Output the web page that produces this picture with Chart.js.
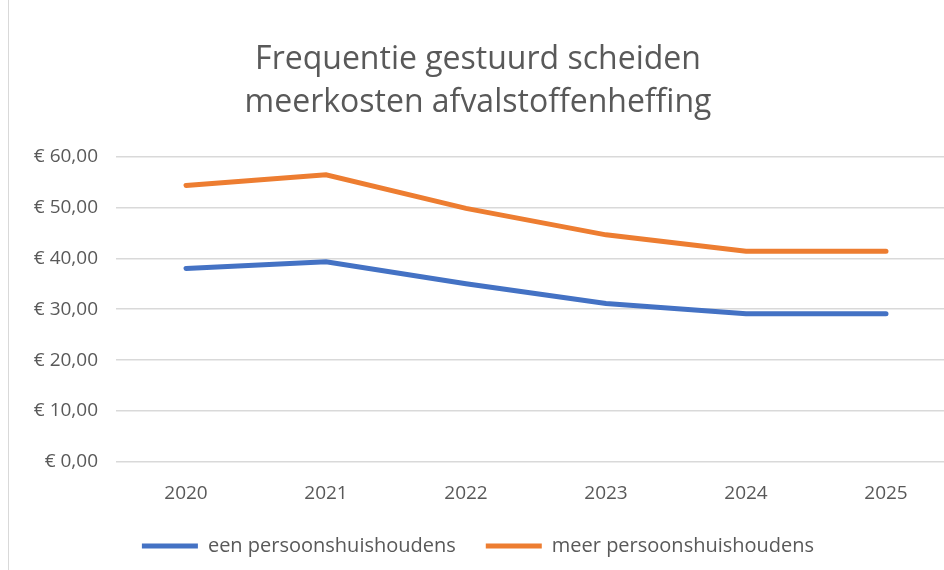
<!DOCTYPE html>
<html>
<head>
<meta charset="utf-8">
<script src="https://cdn.jsdelivr.net/npm/chart.js@4/dist/chart.umd.min.js"></script>
<style>
  html, body { margin: 0; padding: 0; background: #fff; overflow: hidden; }
  #wrap { position: relative; width: 944px; height: 570px; overflow: hidden; }
  #wrap:before { content: ''; position: absolute; left: 8px; top: 0; bottom: 0; border-left: 1px solid #d9d9d9; }
  #box { position: absolute; left: 0; top: 0; width: 980px; height: 570px; }
</style>
</head>
<body>
<div id="wrap"><div id="box"><canvas id="chart"></canvas></div></div>
<script>
// jaren en bedragen (euro)
const years = ['2020', '2021', '2022', '2023', '2024', '2025'];
const eenPersoons = [38.0, 39.3, 35.0, 31.1, 29.1, 29.1];
const meerPersoons = [54.3, 56.4, 49.8, 44.6, 41.4, 41.4];
const titleLines = ['Frequentie gestuurd scheiden', 'meerkosten afvalstoffenheffing'];

const grey = '#595959';
const fontFam = '"Open Sans", sans-serif';

const euro = v => '€ ' + v.toFixed(2).replace('.', ',');

new Chart(document.getElementById('chart'), {
    type: 'line',
    data: {
        labels: years,
        datasets: [
            { label: 'een persoonshuishoudens', data: eenPersoons, borderColor: '#4472c4', backgroundColor: '#4472c4', borderWidth: 5, pointRadius: 0, tension: 0, borderCapStyle: 'round' },
            { label: 'meer persoonshuishoudens', data: meerPersoons, borderColor: '#ed7d31', backgroundColor: '#ed7d31', borderWidth: 5, pointRadius: 0, tension: 0, borderCapStyle: 'round' }
        ]
    },
    options: {
        responsive: true,
        maintainAspectRatio: false,
        animation: false,
        layout: { padding: { left: 0, right: 24, top: 26, bottom: 4 } },
        scales: {
            x: {
                offset: true,
                grid: { display: false, drawTicks: false },
                border: { display: false },
                ticks: { color: grey, font: { size: 19, family: fontFam }, padding: 20 },
                afterFit: s => { s.height = 44; }
            },
            y: {
                min: 0, max: 60,
                ticks: { stepSize: 10, color: grey, font: { size: 19, family: fontFam }, padding: 18, callback: v => euro(v) },
                grid: { color: '#d9d9d9', lineWidth: 1.5, drawTicks: false },
                border: { display: false },
                afterFit: s => { s.width = 116; }
            }
        },
        plugins: {
            title: { display: true, text: titleLines, color: grey, font: { size: 32, family: fontFam, weight: 'normal', lineHeight: 1.35 }, padding: { top: 12, bottom: 32 } },
            legend: {
                position: 'bottom',
                labels: { usePointStyle: true, pointStyle: 'line', pointStyleWidth: 56, color: grey, font: { size: 20, family: fontFam }, padding: 30, boxHeight: 5 }
            },
            tooltip: { enabled: false }
        }
    }
});
</script>
</body>
</html>
